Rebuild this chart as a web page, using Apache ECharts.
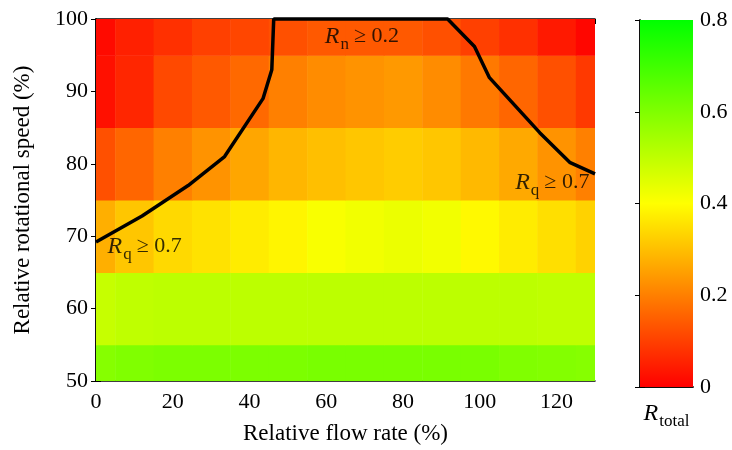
<!DOCTYPE html>
<html>
<head>
<meta charset="utf-8">
<script src="https://cdn.jsdelivr.net/npm/echarts@6/dist/echarts.min.js"></script>
<style>
  html, body { margin: 0; padding: 0; background: #fff; }
  #chart { width: 732px; height: 450px; }
</style>
</head>
<body>
<div id="chart"></div>
<script>
// cell centres (relative flow rate %, relative rotational speed %)
const flowRates = [0, 10, 20, 30, 40, 50, 60, 70, 80, 90, 100, 110, 120, 130];
const speeds = [50, 60, 70, 80, 90, 100];

// R_total per speed row, one value per flow rate column
const rTotal = {
  100: [0.015, 0.05, 0.075, 0.10, 0.11, 0.125, 0.14, 0.14, 0.14, 0.125, 0.10, 0.075, 0.04, 0.01],
  90:  [0.025, 0.06, 0.115, 0.14, 0.165, 0.20, 0.22, 0.23, 0.24, 0.22, 0.19, 0.16, 0.125, 0.09],
  80:  [0.125, 0.16, 0.20, 0.23, 0.26, 0.285, 0.30, 0.31, 0.32, 0.31, 0.29, 0.265, 0.23, 0.20],
  70:  [0.275, 0.31, 0.34, 0.355, 0.37, 0.385, 0.41, 0.42, 0.43, 0.42, 0.39, 0.37, 0.35, 0.33],
  60:  [0.49, 0.50, 0.505, 0.505, 0.505, 0.505, 0.505, 0.505, 0.505, 0.505, 0.505, 0.505, 0.50, 0.50],
  50:  [0.59, 0.60, 0.605, 0.605, 0.605, 0.605, 0.61, 0.61, 0.61, 0.61, 0.61, 0.60, 0.595, 0.59],
};

// boundary contour (R_q >= 0.7 on the sides, R_n >= 0.2 along the top)
const contourX = [0, 12, 24, 33.5, 43.5, 45.8, 46.3, 91.6, 98.6, 102.5, 115.6, 123.4, 130];
const contourY = [69.2, 72.8, 77, 81, 89, 93, 100, 100, 96.2, 91.9, 84.3, 80.2, 78.6];

// annotation labels
const annoX = [59.6, 109.2, 3.0];
const annoY = [97.6, 77.4, 68.6];
const annoSub = ['n', 'q', 'q'];
const annoVal = ['0.2', '0.7', '0.7'];

const xTicks = { min: 0, max: 130, interval: 20 };
const yTicks = { min: 50, max: 100, interval: 10 };
const cbTicks = { min: 0, max: 0.8, interval: 0.2 };
const cmap = ['#ff0000', '#ffff00', '#00ff00'];

const cells = [];
speeds.forEach(s => rTotal[s].forEach((v, i) => cells.push([flowRates[i], s, v])));
const halfX = (flowRates[1] - flowRates[0]) / 2;
const halfY = (speeds[1] - speeds[0]) / 2;

const FONT = 'Liberation Serif';
const axisLine = { show: true, lineStyle: { color: '#000', width: 1.5 } };
const tickIn = { show: true, inside: true, length: 5, lineStyle: { color: '#000', width: 1 } };
const label = { color: '#000', fontFamily: FONT, fontSize: 22 };
const nameStyle = { color: '#000', fontFamily: FONT, fontSize: 23 };
const richLabel = {
  r: { fontFamily: FONT, fontStyle: 'italic', fontSize: 24, color: '#000' },
  s: { fontFamily: FONT, fontSize: 17, color: '#000', padding: [16, 0, 0, 1] },
  v: { fontFamily: FONT, fontSize: 22, color: '#000', padding: [0, 0, 0, 5] },
};

const chart = echarts.init(document.getElementById('chart'), null, { renderer: 'canvas' });
chart.setOption({
  backgroundColor: '#fff',
  animation: false,
  grid: [
    { left: 96, top: 19, width: 499, height: 364 },
    { left: 640, top: 20, width: 53, height: 367 },
  ],
  visualMap: {
    show: false, type: 'continuous', seriesIndex: 0, dimension: 2,
    min: cbTicks.min, max: cbTicks.max, inRange: { color: cmap },
  },
  xAxis: [
    {
      type: 'value', gridIndex: 0, position: 'bottom', ...xTicks,
      axisLine, axisTick: tickIn, splitLine: { show: false },
      axisLabel: { ...label, margin: 10, showMaxLabel: false },
      name: 'Relative flow rate (%)', nameLocation: 'middle', nameGap: 41,
      nameTextStyle: nameStyle,
    },
    {
      type: 'value', gridIndex: 0, position: 'top', ...xTicks,
      axisLine, axisTick: tickIn, splitLine: { show: false }, axisLabel: { show: false },
    },
    {
      type: 'value', gridIndex: 1, position: 'bottom', min: 0, max: 1,
      axisLine, axisTick: { show: false }, splitLine: { show: false }, axisLabel: { show: false },
      name: '{r|R}{s|total}', nameLocation: 'middle', nameGap: 10,
      nameTextStyle: { rich: richLabel, verticalAlign: 'top' },
    },
    {
      type: 'value', gridIndex: 1, position: 'top', min: 0, max: 1,
      axisLine, axisTick: { show: false }, splitLine: { show: false }, axisLabel: { show: false },
    },
  ],
  yAxis: [
    {
      type: 'value', gridIndex: 0, position: 'left', ...yTicks,
      axisLine, axisTick: tickIn, splitLine: { show: false },
      axisLabel: { ...label, margin: 8 },
      name: 'Relative rotational speed (%)', nameLocation: 'middle', nameGap: 62,
      nameTextStyle: nameStyle,
    },
    {
      type: 'value', gridIndex: 0, position: 'right', ...yTicks,
      axisLine, axisTick: tickIn, splitLine: { show: false }, axisLabel: { show: false },
    },
    {
      type: 'value', gridIndex: 1, position: 'right', ...cbTicks,
      axisLine, axisTick: tickIn, splitLine: { show: false },
      axisLabel: { ...label, margin: 7, formatter: v => (v === 0 ? '0' : v.toFixed(1)) },
    },
    {
      type: 'value', gridIndex: 1, position: 'left', ...cbTicks,
      axisLine, axisTick: tickIn, splitLine: { show: false }, axisLabel: { show: false },
    },
  ],
  series: [
    {
      type: 'custom',
      xAxisIndex: 0, yAxisIndex: 0,
      data: cells,
      encode: { x: 0, y: 1 },
      renderItem(params, api) {
        const x = api.value(0), y = api.value(1);
        const p0 = api.coord([x - halfX, y + halfY]);
        const p1 = api.coord([x + halfX, y - halfY]);
        const cs = params.coordSys;
        const shape = echarts.graphic.clipRectByRect(
          { x: p0[0], y: p0[1], width: p1[0] - p0[0] + 0.5, height: p1[1] - p0[1] + 0.5 },
          { x: cs.x, y: cs.y, width: cs.width, height: cs.height }
        );
        return shape && { type: 'rect', shape, style: { fill: api.visual('color') } };
      },
      z: 1,
    },
    {
      type: 'line',
      xAxisIndex: 0, yAxisIndex: 0,
      data: contourX.map((x, i) => [x, contourY[i]]),
      symbol: 'none', clip: false,
      lineStyle: { color: '#000', width: 3.5 },
      z: 5,
    },
    {
      type: 'scatter',
      xAxisIndex: 0, yAxisIndex: 0,
      data: annoX.map((x, i) => [x, annoY[i], annoSub[i], annoVal[i]]),
      symbolSize: 0,
      label: {
        show: true, position: 'right', distance: 0,
        formatter: p => `{r|R}{s|${p.data[2]}}{v|≥ ${p.data[3]}}`,
        rich: richLabel,
      },
      z: 6,
    },
    {
      type: 'custom',
      xAxisIndex: 2, yAxisIndex: 2,
      data: [[0, cbTicks.max]],
      renderItem(params, api) {
        const p0 = api.coord([0, cbTicks.max]);
        const p1 = api.coord([1, cbTicks.min]);
        return {
          type: 'rect',
          shape: { x: p0[0], y: p0[1], width: p1[0] - p0[0], height: p1[1] - p0[1] },
          style: {
            fill: new echarts.graphic.LinearGradient(0, 1, 0, 0,
              cmap.map((c, i) => ({ offset: i / (cmap.length - 1), color: c }))),
          },
        };
      },
      z: 1,
    },
  ],
});
</script>
</body>
</html>
